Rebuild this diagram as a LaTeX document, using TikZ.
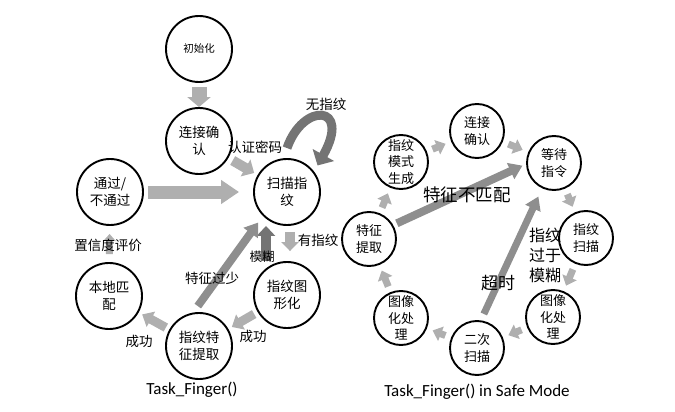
\documentclass[tikz,border=0pt]{standalone}
\usepackage{fontspec}
\setmainfont{Carlito}
\newfontfamily\cjk{Noto Sans CJK SC}
\usetikzlibrary{arrows.meta}

\definecolor{arrowlight}{HTML}{AFAFAF}
\definecolor{arrowmid}{HTML}{8E8E8E}
\definecolor{arrowdark}{HTML}{747474}

\tikzset{
	state/.style={circle, draw, line width=1.9pt, fill=white, minimum size=66pt, inner sep=0pt, align=center, font=\cjk\fontsize{13.5}{17}\selectfont},
	rstate/.style={state, minimum size=54pt, font=\cjk\fontsize{13}{16.5}\selectfont},
	lbl/.style={inner sep=0pt, font=\cjk\fontsize{13.5}{17}\selectfont},
	blockarr/.style args={#1:#2:#3}{line width=#1, -{Triangle[width=#2,length=#3]}},
	ringarr/.style={blockarr=7pt:15pt:9pt, shorten <=6pt, shorten >=6pt}
}

\begin{document}
\begin{tikzpicture}[x=1pt,y=-1pt]
	\useasboundingbox (0,0) rectangle (675,412);
	%% Task_Finger()
	\node[state, font=\cjk\fontsize{10.5}{13}\selectfont] (init) at (199,49) {初始化};
	\node[state] (conn) at (199,141) {连接确\\认};
	\node[state] (scan) at (287,192) {扫描指\\纹};
	\node[state] (pass) at (110,192) {通过/\\不通过};
	\node[state] (local) at (109,296) {本地匹\\配};
	\node[state] (feature) at (199,346) {指纹特\\征提取};
	\node[state] (graph) at (287,295) {指纹图\\形化};
	
	\draw[arrowlight, blockarr=15pt:23pt:10pt, shorten <=4pt] (init) -- (conn);
	\draw[arrowlight, blockarr=10pt:19pt:10pt, shorten <=5pt, shorten >=4pt] (conn) -- (scan);
	\draw[arrowlight, blockarr=13pt:23pt:18pt, shorten <=4pt, shorten >=14pt] (pass) -- (scan);
	\draw[arrowlight, blockarr=10pt:17pt:9pt, shorten <=6pt, shorten >=10pt] ([xshift=3pt]scan.south) -- ([xshift=3pt]graph.north);
	\draw[arrowdark, blockarr=10pt:18pt:10pt] ([xshift=-21pt]graph.north) -- ([xshift=-21pt]scan.south);
	\draw[arrowlight, blockarr=9pt:17pt:10pt, shorten <=4pt, shorten >=4pt] (graph) -- (feature);
	\draw[arrowlight, blockarr=9pt:17pt:10pt, shorten <=4pt, shorten >=4pt] (feature) -- (local);
	\draw[arrowlight, blockarr=7pt:12pt:7pt, shorten <=8pt, shorten >=8pt] (local) -- (pass);
	\draw[arrowmid, blockarr=8pt:17pt:13pt, shorten <=8pt, shorten >=8pt] (feature.100) -- (scan.225);
	%\draw loop no fingerprint
	\draw[arrowdark, blockarr=9pt:24pt:12pt, shorten >=7pt] ([yshift=10pt]scan.north) .. controls (303,102) and (352,104) .. (scan.37);
	
	%% Task_Finger() in Safe Mode
	\node[rstate] (conn2) at (477,131) {连接\\确认};
	\node[rstate] (mode) at (401,162) {指纹\\模式\\生成};
	\node[rstate] (wait) at (554,163) {等待\\指令};
	\node[rstate] (extract) at (369,239) {特征\\提取};
	\node[rstate] (scan2) at (586,238) {指纹\\扫描};
	\node[rstate] (imgl) at (401,318) {图像\\化处\\理};
	\node[rstate] (twice) at (477,348) {二次\\扫描};
	\node[rstate] (imgr) at (553,317) {图像\\化处\\理};
	
	\foreach \a/\b in {extract/mode, mode/conn2, conn2/wait, wait/scan2, scan2/imgr, imgr/twice, twice/imgl, imgl/extract}{
		\draw[arrowlight, ringarr] (\a) -- (\b);
	}
	\draw[arrowmid, blockarr=8pt:17pt:13pt, shorten <=4pt, shorten >=4pt] (extract.30) -- (wait.182);
	\draw[arrowmid, blockarr=7pt:16pt:13pt, shorten <=7pt, shorten >=9pt] (twice.82) -- (wait.245);
	
	%% labels
	\node[lbl] (nofp) at (326,104) {无指纹};
	\node[lbl] (pwd) at (255,147) {认证密码};
	\node[lbl] (hasfp) at (318,240) {有指纹};
	\node[lbl, font=\cjk\fontsize{12.5}{15}\selectfont] (blur) at (262,257) {模糊};
	\node[lbl] (few) at (212,278) {特征过少};
	\node[lbl] (conf) at (108,245) {置信度评价};
	\node[lbl] (okl) at (139,341) {成功};
	\node[lbl] (okr) at (253,336) {成功};
	\node[lbl, font=\cjk\fontsize{17.5}{21}\selectfont] (nomatch) at (467,195) {特征不匹配};
	\node[lbl, font=\cjk\fontsize{17}{21}\selectfont] (timeout) at (498,283) {超时};
	\node[lbl, align=center, font=\cjk\fontsize{16}{20}\selectfont] (tooblur) at (545,255) {指纹\\过于\\模糊};
	\node[font=\fontsize{17}{20}\selectfont] (titlel) at (192,390) {Task\_Finger()};
	\node[font=\fontsize{17}{20}\selectfont] (titler) at (477,392) {Task\_Finger() in Safe Mode};
\end{tikzpicture}
\end{document}
